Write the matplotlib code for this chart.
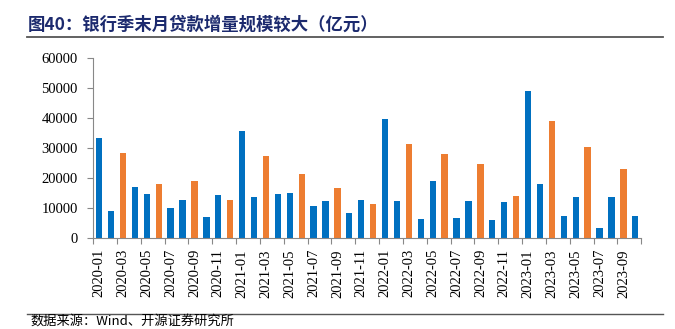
import matplotlib
matplotlib.use('Agg')

import matplotlib.pyplot as plt
from matplotlib.lines import Line2D
import numpy as np

# monthly new loans, 2020-01 .. 2023-10 (亿元)
months = [f"{y}-{m:02d}" for y in range(2020, 2024) for m in range(1, 13)][:46]
loans = [
    33400, 9057, 28500, 17000, 14800, 18100, 9927, 12800, 19000, 6898, 14300, 12600,
    35800, 13600, 27300, 14700, 15000, 21200, 10800, 12200, 16600, 8262, 12700, 11300,
    39800, 12300, 31300, 6454, 18900, 28100, 6788, 12500, 24700, 6152, 12100, 14000,
    49000, 18100, 38900, 7188, 13600, 30500, 3459, 13600, 23100, 7384,
]
yticks = [0, 10000, 20000, 30000, 40000, 50000, 60000]

title = "图40：银行季末月贷款增量规模较大（亿元）"
source = "数据来源：Wind、开源证券研究所"

blue = '#0070C0'
orange = '#ED7D31'
cjk = ['Noto Sans CJK SC', 'DejaVu Sans']

plt.rcParams['font.family'] = 'serif'
plt.rcParams['font.serif'] = ['Liberation Serif', 'DejaVu Serif']

fig = plt.figure(figsize=(6.75, 3.29), dpi=100)
ax = fig.add_axes([0.138, 0.2766, 0.812, 0.547])

x = np.arange(len(loans))
colors = [orange if int(m[-2:]) % 3 == 0 else blue for m in months]
ax.bar(x, loans, width=0.53, color=colors, zorder=2)

ax.set_xlim(-0.5, len(loans) - 0.5)
ax.set_ylim(0, 60000)
ax.set_yticks(yticks)
ax.set_yticklabels([str(v) for v in yticks], fontsize=10.5)

ax.set_xticks(x[::2])
ax.set_xticklabels(months[::2], rotation=90, fontsize=10.5)
ax.tick_params(axis='x', which='major', length=0, pad=8)
ax.set_xticks(np.r_[-0.5, np.arange(1.5, len(loans), 2)], minor=True)
ax.tick_params(axis='x', which='minor', length=4, width=0.8, color='#888888', direction='out')
ax.tick_params(axis='y', length=4, width=0.8, color='#888888', pad=7)

for s in ['top', 'right']:
    ax.spines[s].set_visible(False)
for s in ['left', 'bottom']:
    ax.spines[s].set_color('#888888')
    ax.spines[s].set_linewidth(0.8)

# title and rules
fig.text(28 / 675, 1 - 25 / 329, title, fontsize=12.5, fontweight='bold',
         color='#1C2A6E', family=cjk, va='center', ha='left')
fig.add_artist(Line2D([27 / 675, 663 / 675], [1 - 37 / 329] * 2, color='#555555', lw=1.3,
                      transform=fig.transFigure))
fig.add_artist(Line2D([27 / 675, 663 / 675], [1 - 314 / 329] * 2, color='#555555', lw=1.0,
                      transform=fig.transFigure))
fig.text(30 / 675, 1 - 321 / 329, source, fontsize=9.5, color='black',
         family=cjk, va='center', ha='left')

fig.savefig('out.png', dpi=100)
plt.close(fig)
